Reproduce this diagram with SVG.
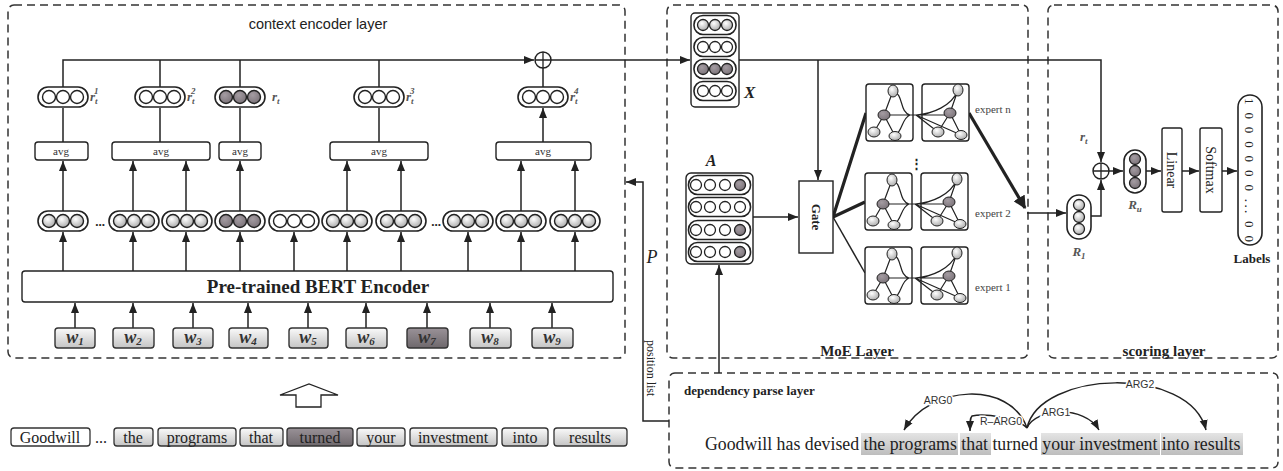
<svg xmlns="http://www.w3.org/2000/svg" width="1283" height="471" viewBox="0 0 1283 471">
<style>
.dash{fill:none;stroke:#333;stroke-width:1.5;stroke-dasharray:8 5}
.ln{fill:none;stroke:#222;stroke-width:1.5}
.arr{fill:none;stroke:#222;stroke-width:1.5;marker-end:url(#ah)}
.thk{fill:none;stroke:#222;stroke-width:3.2}
.box{fill:#fff;stroke:#222;stroke-width:1.4}
.pill{fill:#fff;stroke:#222;stroke-width:1.6}
.ser{font-family:"Liberation Serif","Times New Roman",serif;fill:#222}
.sans{font-family:"Liberation Sans",Arial,sans-serif;fill:#222}
.b{font-weight:bold}
.it{font-style:italic}
.avg{font-family:"Liberation Serif",serif;font-size:11px;fill:#333;text-anchor:middle}
.rl{font-family:"Liberation Serif",serif;font-style:italic;font-weight:bold;font-size:13px;fill:#555}
.wl{font-family:"Liberation Serif",serif;font-style:italic;font-weight:bold;font-size:18px;fill:#333;text-anchor:middle}
.dl{font-family:"Liberation Sans",Arial,sans-serif;font-size:10.5px;fill:#333;text-anchor:middle;stroke:#fff;stroke-width:3;paint-order:stroke}
.edge{fill:none;stroke:#222;stroke-width:1.2}
.exl{font-family:"Liberation Serif",serif;font-size:11px;fill:#444}
</style>
<defs>
<marker id="ah" viewBox="0 0 10 10" refX="10" refY="5" markerWidth="10" markerHeight="10" markerUnits="userSpaceOnUse" orient="auto"><path d="M0,1 L10,5 L0,9 z" fill="#222"/></marker>
<marker id="ahT" viewBox="0 0 10 10" refX="9" refY="5" markerWidth="13" markerHeight="13" markerUnits="userSpaceOnUse" orient="auto"><path d="M0,0 L10,5 L0,10 z" fill="#222"/></marker>
<radialGradient id="gl" cx="0.4" cy="0.35" r="0.7"><stop offset="0" stop-color="#fff"/><stop offset="1" stop-color="#a8a8a8"/></radialGradient>
<radialGradient id="gd" cx="0.4" cy="0.35" r="0.7"><stop offset="0" stop-color="#a49ca2"/><stop offset="1" stop-color="#7a7278"/></radialGradient>
<linearGradient id="wg" x1="0" y1="0" x2="0" y2="1"><stop offset="0" stop-color="#fafafa"/><stop offset="1" stop-color="#c4c4c4"/></linearGradient>
<linearGradient id="wd" x1="0" y1="0" x2="0" y2="1"><stop offset="0" stop-color="#9a9298"/><stop offset="1" stop-color="#6e686c"/></linearGradient>
<linearGradient id="hl" x1="0" y1="0" x2="0" y2="1"><stop offset="0" stop-color="#e4e4e4"/><stop offset="1" stop-color="#bdbdbd"/></linearGradient>
<g id="pw"><rect class="pill" x="-25" y="-10" width="50" height="20" rx="10"/><g fill="#fff" stroke="#222" stroke-width="1.4"><circle cx="-14" r="6.5"/><circle r="6.5"/><circle cx="14" r="6.5"/></g></g>
<g id="pg"><rect class="pill" x="-25" y="-10" width="50" height="20" rx="10"/><g fill="url(#gl)" stroke="#222" stroke-width="1.4"><circle cx="-14" r="6.5"/><circle r="6.5"/><circle cx="14" r="6.5"/></g></g>
<g id="pd"><rect class="pill" x="-25" y="-10" width="50" height="20" rx="10"/><g fill="url(#gd)" stroke="#222" stroke-width="1.4"><circle cx="-14" r="6.5"/><circle r="6.5"/><circle cx="14" r="6.5"/></g></g>
<g id="plus"><circle r="8" fill="#fff" stroke="#222" stroke-width="1.4"/><path d="M-8,0H8M0,-8V8" stroke="#222" stroke-width="1.3"/></g>
<g id="expert">
<rect class="box" x="0" y="0" width="47" height="57" rx="3"/>
<rect class="box" x="56" y="0" width="47" height="57" rx="3"/>
<path class="edge" d="M18,31L27,7M18,31L8,48M18,31L29,52M18,31H84M27,7C38,10 33,28 44,31M29,52C37,46 36,34 44,31M50,31C66,30 86,22 92,6M50,31L72,48M50,31L95,51M84,29L92,6M84,29L72,48M84,29L95,51"/>
<g fill="url(#gl)" stroke="#222" stroke-width="1"><ellipse cx="27" cy="7" rx="5" ry="6"/><ellipse cx="8" cy="48" rx="6" ry="5"/><ellipse cx="29" cy="52" rx="6" ry="4.5"/><ellipse cx="92" cy="6" rx="5" ry="6"/><ellipse cx="72" cy="48" rx="6" ry="5"/><ellipse cx="95" cy="51" rx="6" ry="4.5"/></g>
<g fill="url(#gd)" stroke="#222" stroke-width="1"><ellipse cx="18" cy="31" rx="6" ry="5"/><ellipse cx="84" cy="29" rx="6" ry="5"/></g>
</g>
</defs>
<rect width="1283" height="471" fill="#fff"/>

<g id="layers">
<rect class="dash" x="8" y="5" width="617" height="353" rx="6"/>
<rect class="dash" x="667" y="5" width="361" height="353" rx="6"/>
<rect class="dash" x="1048" y="5" width="230" height="353" rx="6"/>
<rect class="dash" x="669" y="373" width="609" height="95" rx="6"/>
<text class="sans" x="318" y="29" font-size="14.5" text-anchor="middle">context encoder layer</text>
<text class="ser b" x="857" y="356" font-size="15" text-anchor="middle">MoE Layer</text>
<text class="ser b" x="1164" y="356" font-size="15" text-anchor="middle">scoring layer</text>
<text class="ser b" x="684" y="395" font-size="13">dependency parse layer</text>
</g>

<g id="connectors">
<path class="arr" d="M63,87V60H534"/>
<path class="ln" d="M160,87V60M240,87V60M379,87V60M543,87V68"/>
<path class="arr" d="M551,60H690"/>
<path class="arr" d="M63,142V108M160,142V108M240,142V108M379,142V108M543,142V108"/>
<path class="arr" d="M63,211V161"/><path class="arr" d="M133,211V161"/><path class="arr" d="M186,211V161"/><path class="arr" d="M240,211V161"/>
<path class="arr" d="M347,211V161"/><path class="arr" d="M401,211V161"/><path class="arr" d="M521,211V161"/><path class="arr" d="M575,211V161"/>
<path class="arr" d="M63,271V232"/><path class="arr" d="M133,271V232"/><path class="arr" d="M186,271V232"/><path class="arr" d="M240,271V232"/><path class="arr" d="M294,271V232"/>
<path class="arr" d="M347,271V232"/><path class="arr" d="M401,271V232"/><path class="arr" d="M468,271V232"/><path class="arr" d="M521,271V232"/><path class="arr" d="M575,271V232"/>
<path class="arr" d="M75,328V303"/><path class="arr" d="M133,328V303"/><path class="arr" d="M193,328V303"/><path class="arr" d="M248,328V303"/><path class="arr" d="M308,328V303"/>
<path class="arr" d="M366,328V303"/><path class="arr" d="M427,328V303"/><path class="arr" d="M490,328V303"/><path class="arr" d="M552,328V303"/>
<path class="arr" d="M669,421H643V182H626"/>
<path class="arr" d="M739,60H1101V162"/>
<path class="arr" d="M818,60V180"/>
<path class="arr" d="M753,217H798"/>
<path class="arr" d="M719,373V265"/>
<path class="thk" d="M833,217L866,113M833,217L865,202"/>
<path class="ln" d="M833,217L865,273" stroke-width="0.9"/>
<path class="thk" d="M969,113L1025,208" marker-end="url(#ahT)"/>
<path class="arr" d="M1027,213H1066"/>
<path class="arr" d="M1091,216H1101V180"/>
<path class="arr" d="M1109,171H1123"/>
<path class="arr" d="M1146,171H1161"/>
<path class="arr" d="M1182,171H1199"/>
<path class="arr" d="M1222,171H1237"/>
</g>

<g id="plus1"><use href="#plus" x="543" y="60"/></g>

<g id="r-vectors">
<use href="#pw" x="63" y="97"/><use href="#pw" x="160" y="97"/><use href="#pd" x="240" y="97"/><use href="#pw" x="379" y="97"/><use href="#pw" x="543" y="97"/>
<text class="rl" x="90" y="101">r<tspan font-size="9" dy="3">t</tspan><tspan font-size="9" dx="-3.5" dy="-10">1</tspan></text>
<text class="rl" x="187" y="101">r<tspan font-size="9" dy="3">t</tspan><tspan font-size="9" dx="-3.5" dy="-10">2</tspan></text>
<text class="rl" x="272" y="101" font-weight="normal" fill="#777">r<tspan font-size="9" dy="3">t</tspan></text>
<text class="rl" x="406" y="101">r<tspan font-size="9" dy="3">t</tspan><tspan font-size="9" dx="-3.5" dy="-10">3</tspan></text>
<text class="rl" x="570" y="101">r<tspan font-size="9" dy="3">t</tspan><tspan font-size="9" dx="-3.5" dy="-10">4</tspan></text>
</g>

<g id="avg">
<rect class="box" x="35" y="142" width="53" height="18" rx="3"/><text class="avg" x="61" y="155">avg</text>
<rect class="box" x="112" y="142" width="98" height="18" rx="3"/><text class="avg" x="161" y="155">avg</text>
<rect class="box" x="219" y="142" width="42" height="18" rx="3"/><text class="avg" x="240" y="155">avg</text>
<rect class="box" x="330" y="142" width="98" height="18" rx="3"/><text class="avg" x="379" y="155">avg</text>
<rect class="box" x="496" y="142" width="95" height="18" rx="3"/><text class="avg" x="543" y="155">avg</text>
</g>

<g id="token-vectors">
<use href="#pg" x="63" y="221"/><use href="#pg" x="134" y="221"/><use href="#pg" x="187" y="221"/><use href="#pd" x="240" y="221"/><use href="#pw" x="294" y="221"/>
<use href="#pg" x="347" y="221"/><use href="#pg" x="401" y="221"/><use href="#pg" x="468" y="221"/><use href="#pg" x="521" y="221"/><use href="#pg" x="575" y="221"/>
<text class="ser b" x="100" y="226" font-size="13" text-anchor="middle">...</text>
<text class="ser b" x="436" y="226" font-size="13" text-anchor="middle">...</text>
</g>

<g id="bert">
<rect class="box" x="22" y="271" width="591" height="31" rx="3"/>
<text class="ser b" x="318" y="293" font-size="19" text-anchor="middle">Pre-trained BERT Encoder</text>
</g>

<g id="words" stroke="#333" stroke-width="1.4">
<rect x="55" y="328" width="40" height="20" rx="3" fill="url(#wg)"/>
<rect x="113" y="328" width="41" height="20" rx="3" fill="url(#wg)"/>
<rect x="173" y="328" width="40" height="20" rx="3" fill="url(#wg)"/>
<rect x="229" y="328" width="39" height="20" rx="3" fill="url(#wg)"/>
<rect x="289" y="328" width="39" height="20" rx="3" fill="url(#wg)"/>
<rect x="346" y="328" width="41" height="20" rx="3" fill="url(#wg)"/>
<rect x="407" y="328" width="41" height="20" rx="3" fill="url(#wd)"/>
<rect x="470" y="328" width="41" height="20" rx="3" fill="url(#wg)"/>
<rect x="532" y="328" width="41" height="20" rx="3" fill="url(#wg)"/>
</g>
<g id="word-labels">
<text class="wl" x="75" y="343">w<tspan font-size="11" dy="2">1</tspan></text>
<text class="wl" x="133" y="343">w<tspan font-size="11" dy="2">2</tspan></text>
<text class="wl" x="193" y="343">w<tspan font-size="11" dy="2">3</tspan></text>
<text class="wl" x="248" y="343">w<tspan font-size="11" dy="2">4</tspan></text>
<text class="wl" x="308" y="343">w<tspan font-size="11" dy="2">5</tspan></text>
<text class="wl" x="366" y="343">w<tspan font-size="11" dy="2">6</tspan></text>
<text class="wl" x="427" y="343">w<tspan font-size="11" dy="2">7</tspan></text>
<text class="wl" x="490" y="343">w<tspan font-size="11" dy="2">8</tspan></text>
<text class="wl" x="552" y="343">w<tspan font-size="11" dy="2">9</tspan></text>
</g>

<g id="input-arrow">
<polygon points="280,395 309,384 338,395 321,395 321,407 296,407 296,395" fill="#fff" stroke="#222" stroke-width="1.3"/>
</g>

<g id="sentence">
<g stroke="#333" stroke-width="1.3">
<rect x="11" y="428" width="79" height="18" rx="3" fill="#fff"/>
<rect x="114" y="428" width="39" height="18" rx="3" fill="url(#wg)"/>
<rect x="158" y="428" width="78" height="18" rx="3" fill="url(#wg)"/>
<rect x="240" y="428" width="43" height="18" rx="3" fill="url(#wg)"/>
<rect x="287" y="428" width="66" height="18" rx="3" fill="url(#wd)"/>
<rect x="357" y="428" width="48" height="18" rx="3" fill="url(#wg)"/>
<rect x="410" y="428" width="87" height="18" rx="3" fill="url(#wg)"/>
<rect x="502" y="428" width="46" height="18" rx="3" fill="url(#wg)"/>
<rect x="554" y="428" width="73" height="18" rx="3" fill="url(#wg)"/>
</g>
<g class="ser" font-size="16" text-anchor="middle">
<text x="50" y="443">Goodwill</text>
<text x="101" y="443">...</text>
<text x="133" y="443">the</text>
<text x="197" y="443">programs</text>
<text x="261" y="443">that</text>
<text x="320" y="443">turned</text>
<text x="381" y="443">your</text>
<text x="453" y="443">investment</text>
<text x="525" y="443">into</text>
<text x="590" y="443">results</text>
</g>
</g>

<g id="position-list">
<text class="ser it" x="652" y="263" font-size="18" text-anchor="middle">P</text>
<text class="ser" font-size="12" transform="translate(647,340) rotate(90)">position list</text>
</g>

<g id="X-matrix">
<rect class="box" x="691" y="13" width="48" height="94" rx="4" stroke-width="1.6"/>
<rect class="pill" x="694" y="15.5" width="42" height="19" rx="9"/>
<rect class="pill" x="694" y="37.5" width="42" height="19" rx="9"/>
<rect class="pill" x="694" y="59.5" width="42" height="19" rx="9"/>
<rect class="pill" x="694" y="81.5" width="42" height="19" rx="9"/>
<g stroke="#222" stroke-width="1.3">
<circle cx="703" cy="25" r="5.5" fill="url(#gl)"/><circle cx="715" cy="25" r="5.5" fill="url(#gl)"/><circle cx="727" cy="25" r="5.5" fill="url(#gl)"/>
<circle cx="703" cy="47" r="5.5" fill="#fff"/><circle cx="715" cy="47" r="5.5" fill="#fff"/><circle cx="727" cy="47" r="5.5" fill="#fff"/>
<circle cx="703" cy="69" r="5.5" fill="url(#gd)"/><circle cx="715" cy="69" r="5.5" fill="url(#gd)"/><circle cx="727" cy="69" r="5.5" fill="url(#gd)"/>
<circle cx="703" cy="91" r="5.5" fill="#fff"/><circle cx="715" cy="91" r="5.5" fill="#fff"/><circle cx="727" cy="91" r="5.5" fill="#fff"/>
</g>
<text class="ser it b" x="744" y="98" font-size="17" fill="#444">X</text>
</g>

<g id="A-matrix">
<text class="ser it b" x="711" y="166" font-size="16" text-anchor="middle" fill="#444">A</text>
<rect class="box" x="686" y="173" width="67" height="91" rx="5" stroke-width="1.6"/>
<rect class="pill" x="688.5" y="175.5" width="62" height="19" rx="9"/>
<rect class="pill" x="688.5" y="197.5" width="62" height="19" rx="9"/>
<rect class="pill" x="688.5" y="220.5" width="62" height="19" rx="9"/>
<rect class="pill" x="688.5" y="242.5" width="62" height="19" rx="9"/>
<g stroke="#222" stroke-width="1.3" fill="#fff">
<circle cx="696" cy="185" r="5.5"/><circle cx="710" cy="185" r="5.5"/><circle cx="725" cy="185" r="5.5"/><circle cx="740" cy="185" r="5.5" fill="url(#gd)"/>
<circle cx="696" cy="207" r="5.5"/><circle cx="710" cy="207" r="5.5"/><circle cx="725" cy="207" r="5.5"/><circle cx="740" cy="207" r="5.5"/>
<circle cx="696" cy="230" r="5.5"/><circle cx="710" cy="230" r="5.5"/><circle cx="725" cy="230" r="5.5"/><circle cx="740" cy="230" r="5.5" fill="url(#gd)"/>
<circle cx="696" cy="252" r="5.5"/><circle cx="710" cy="252" r="5.5"/><circle cx="725" cy="252" r="5.5"/><circle cx="740" cy="252" r="5.5" fill="url(#gd)"/>
</g>
</g>

<g id="gate">
<rect class="box" x="799" y="181" width="34" height="72"/>
<text class="ser b" font-size="13" text-anchor="middle" transform="translate(812,217) rotate(90)">Gate</text>
</g>

<g id="expert-n"><use href="#expert" x="866" y="84"/><text class="exl" x="975" y="113">expert n</text></g>
<g id="expert-dots"><text class="ser b" x="916" y="168" font-size="13" text-anchor="middle">⋮</text></g>
<g id="expert-2"><use href="#expert" x="865" y="173"/><text class="exl" x="975" y="217">expert 2</text></g>
<g id="expert-1"><use href="#expert" x="865" y="247"/><text class="exl" x="975" y="291">expert 1</text></g>

<g id="scoring">
<use href="#plus" x="1101" y="171"/>
<text class="rl" x="1080" y="141" font-weight="normal" fill="#777">r<tspan font-size="9" dy="3">t</tspan></text>
<rect class="pill" x="1067" y="195" width="24" height="44" rx="12"/>
<g stroke="#222" stroke-width="1.3" fill="url(#gl)"><circle cx="1079" cy="205" r="5.5"/><circle cx="1079" cy="217" r="5.5"/><circle cx="1079" cy="229" r="5.5"/></g>
<text class="rl" x="1079" y="256" text-anchor="middle" font-size="13">R<tspan font-size="9" dy="3">1</tspan></text>
<rect class="pill" x="1124" y="150" width="22" height="43" rx="11"/>
<g stroke="#222" stroke-width="1.3" fill="url(#gd)"><circle cx="1135" cy="159" r="5.5"/><circle cx="1135" cy="171" r="5.5"/><circle cx="1135" cy="183" r="5.5"/></g>
<text class="rl" x="1135" y="209" text-anchor="middle" font-size="13" fill="#777">R<tspan font-size="9" dy="3">u</tspan></text>
<rect class="box" x="1162" y="128" width="20" height="84" rx="2"/>
<text class="ser" font-size="14" text-anchor="middle" transform="translate(1167,170) rotate(90)">Linear</text>
<rect class="box" x="1200" y="128" width="22" height="84" rx="2"/>
<text class="ser" font-size="14" text-anchor="middle" transform="translate(1206,170) rotate(90)">Softmax</text>
<rect class="pill" x="1238" y="95" width="24" height="150" rx="12"/>
<text class="ser" font-size="13" transform="translate(1245,98) rotate(90)" textLength="144" lengthAdjust="spacing">1 0 0 0 0 0 0 ... 0 0</text>
<text class="ser b" x="1252" y="263" font-size="13" text-anchor="middle">Labels</text>
</g>

<g id="dependency">
<g fill="url(#hl)">
<rect x="861" y="433" width="97" height="22"/>
<rect x="960" y="433" width="31" height="22"/>
<rect x="1041" y="433" width="119" height="22"/>
<rect x="1161" y="433" width="82" height="22"/>
</g>
<text class="ser" font-size="17.8" x="705" y="450">Goodwill has devised the programs that turned your investment into results</text>
<g class="arr" stroke-width="1.6">
<path d="M1027,428C1010,380 930,385 904,430"/>
<path d="M1027,428C1018,418 985,413 972,416C970,418 970,422 970,431"/>
<path d="M1027,428C1035,408 1085,405 1099,430"/>
<path d="M1027,428C1040,370 1190,365 1206,430"/>
</g>
<text class="dl" x="938" y="404">ARG0</text>
<text class="dl" x="1001" y="425">R–ARG0</text>
<text class="dl" x="1056" y="416">ARG1</text>
<text class="dl" x="1140" y="388">ARG2</text>
</g>
</svg>
